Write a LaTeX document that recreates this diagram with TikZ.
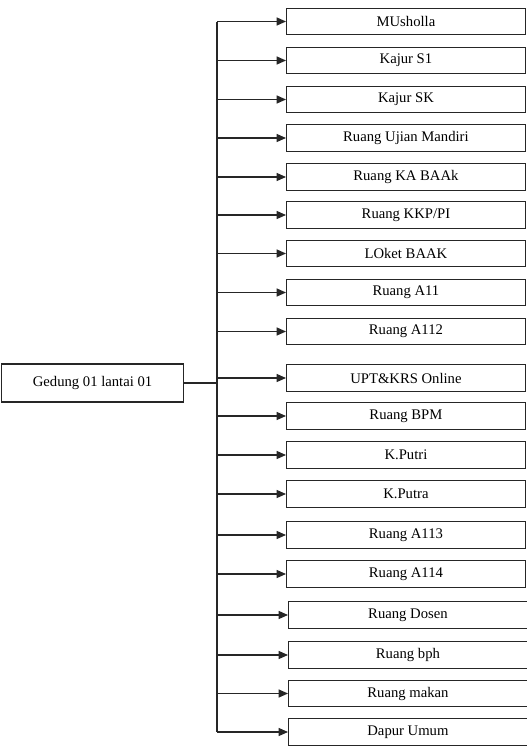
\documentclass[tikz,border=0pt]{standalone}
\usepackage{fontspec}
\setmainfont{Liberation Serif}
\usetikzlibrary{arrows.meta}

\begin{document}
\begin{tikzpicture}[
    x=0.75pt, y=-0.75pt,
    room/.style={
        rectangle,
        draw=black!85,
        line width=0.9pt,
        anchor=west,
        minimum width=179pt,
        minimum height=20pt,
        inner sep=0pt,
        font=\fontsize{11}{12}\selectfont
    },
    mainbox/.style={
        rectangle,
        draw=black!85,
        line width=0.9pt,
        minimum width=137pt,
        minimum height=28.5pt,
        inner sep=0pt,
        font=\fontsize{11}{12}\selectfont
    },
    arrow/.style={-{Triangle[length=7pt,width=6pt]}, line width=0.9pt, black!85},
    bus/.style={line width=0.9pt, black!85}
]
\useasboundingbox (0,0) rectangle (527,753);

% Main building
\node[mainbox] (gedung) at (92.5,383) {Gedung 01 lantai 01};

% Rooms
\node[room] (r1)  at (286,21.5)  {MUsholla};
\node[room] (r2)  at (286,60.5)  {Kajur S1};
\node[room] (r3)  at (286,99.5)  {Kajur SK};
\node[room] (r4)  at (286,138)   {Ruang Ujian Mandiri};
\node[room] (r5)  at (286,177)   {Ruang KA BAAk};
\node[room] (r6)  at (286,215)   {Ruang KKP/PI};
\node[room] (r7)  at (286,253.5) {LOket BAAK};
\node[room] (r8)  at (286,292.5) {Ruang A11};
\node[room] (r9)  at (286,331.5) {Ruang A112};
\node[room] (r10) at (286,378)   {UPT\&KRS Online};
\node[room] (r11) at (286,416)   {Ruang BPM};
\node[room] (r12) at (286,455)   {K.Putri};
\node[room] (r13) at (286,494)   {K.Putra};
\node[room] (r14) at (286,535)   {Ruang A113};
\node[room] (r15) at (286,574)   {Ruang A114};
\node[room] (r16) at (288,615)   {Ruang Dosen};
\node[room] (r17) at (288,655)   {Ruang bph};
\node[room] (r18) at (288,693.5) {Ruang makan};
\node[room] (r19) at (288,732)   {Dapur Umum};

% Bus
\coordinate (bus) at (217,383);
\draw[bus] (gedung) -- (bus);
\draw[bus] (bus |- r1.west) -- (bus |- r19.west);

% Arrows
\foreach \r in {r1,r2,r3,r4,r5,r6,r7,r8,r9,r10,r11,r12,r13,r14,r15,r16,r17,r18,r19}
    \draw[arrow] (bus |- \r.west) -- (\r.west);

\end{tikzpicture}
\end{document}
